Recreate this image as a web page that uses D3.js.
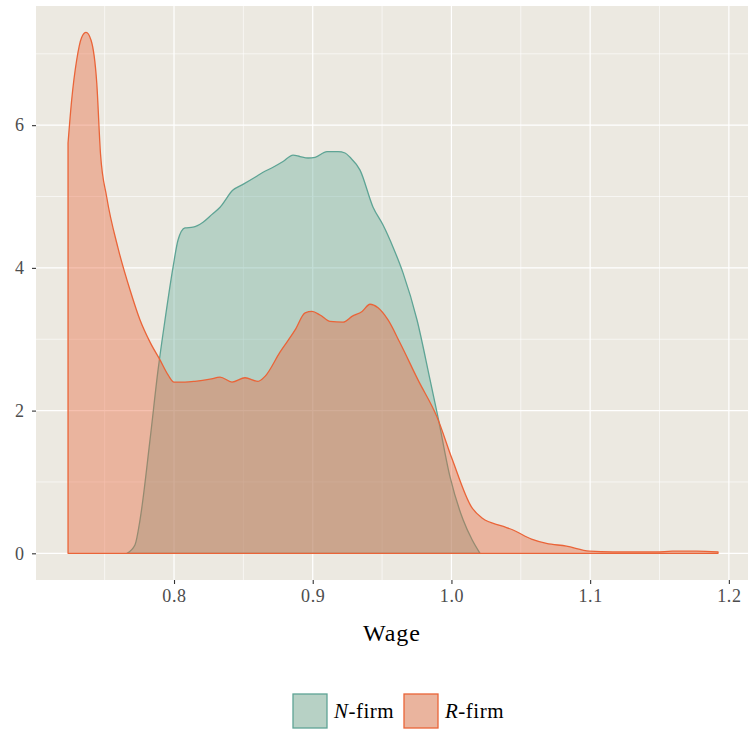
<!DOCTYPE html>
<html>
<head>
<meta charset="utf-8">
<script src="https://cdn.jsdelivr.net/npm/d3@7"></script>
<style>
  body { margin: 0; background: #fff; }
  text { font-family: "Liberation Serif", "DejaVu Serif", serif; }
</style>
</head>
<body>
<svg id="chart" width="748" height="730"></svg>
<script>
// density estimates: [wage, density]
var nFirm = [
  [0.7661, 0], [0.7719, 0.12], [0.7755, 0.47], [0.7827, 1.59], [0.7885, 2.57],
  [0.7935, 3.27], [0.7993, 4.01], [0.8029, 4.39], [0.8079, 4.56], [0.8137, 4.57],
  [0.8209, 4.64], [0.8274, 4.75], [0.8332, 4.85], [0.8425, 5.09], [0.8497, 5.17],
  [0.8584, 5.27], [0.8642, 5.34], [0.8714, 5.41], [0.8786, 5.49], [0.8858, 5.58],
  [0.8909, 5.56], [0.8966, 5.54], [0.9017, 5.55], [0.9103, 5.63], [0.9182, 5.63],
  [0.9233, 5.61], [0.9269, 5.55], [0.9341, 5.37], [0.9435, 4.85], [0.9507, 4.60],
  [0.9579, 4.29], [0.9651, 3.93], [0.9752, 3.27], [0.9846, 2.43], [0.9903, 1.91],
  [0.9990, 1.07], [1.0084, 0.47], [1.0149, 0.19], [1.0206, 0]
];

var rFirm = [
  [0.7236, 5.75], [0.7262, 6.35], [0.7298, 6.91], [0.7334, 7.23], [0.7366, 7.30],
  [0.7402, 7.19], [0.7443, 6.59], [0.7470, 5.60], [0.7515, 4.99], [0.7596, 4.28],
  [0.7683, 3.69], [0.7755, 3.27], [0.7827, 2.96], [0.7899, 2.71], [0.7957, 2.50],
  [0.8000, 2.40], [0.8079, 2.40], [0.8151, 2.41], [0.8260, 2.44], [0.8332, 2.47],
  [0.8418, 2.40], [0.8512, 2.46], [0.8606, 2.41], [0.8656, 2.48], [0.8764, 2.82],
  [0.8873, 3.13], [0.8945, 3.37], [0.8995, 3.39], [0.9053, 3.34], [0.9125, 3.25],
  [0.9219, 3.24], [0.9283, 3.32], [0.9356, 3.39], [0.9413, 3.49], [0.9471, 3.44],
  [0.9543, 3.27], [0.9629, 2.95], [0.9759, 2.43], [0.9896, 1.91], [1.0007, 1.31],
  [1.0144, 0.65], [1.0223, 0.49], [1.0368, 0.38], [1.0440, 0.33], [1.0577, 0.20],
  [1.0685, 0.14], [1.0829, 0.10], [1.0995, 0.03], [1.1161, 0.02], [1.1283, 0.02],
  [1.1478, 0.02], [1.1593, 0.03], [1.1766, 0.03], [1.1922, 0.02]
];

var xTicks = [0.8, 0.9, 1.0, 1.1, 1.2];
var xMinor = [0.75, 0.85, 0.95, 1.05, 1.15];
var yTicks = [0, 2, 4, 6];
var yMinor = [1, 3, 5, 7];

var series = [
  { name: "N", label: "-firm", data: nFirm, stroke: "#5ea495", fill: "#6aad9c" },
  { name: "R", label: "-firm", data: rFirm, stroke: "#ea6438", fill: "#e8643a" }
];

var svg = d3.select("#chart");
var panel = { left: 36, right: 748, top: 6, bottom: 580 };

var x = d3.scaleLinear().domain([0.7005, 1.2138]).range([panel.left, panel.right]);
var y = d3.scaleLinear().domain([-0.374, 7.67]).range([panel.bottom, panel.top]);

svg.append("rect")
    .attr("x", panel.left).attr("y", panel.top)
    .attr("width", panel.right - panel.left).attr("height", panel.bottom - panel.top)
    .attr("fill", "#ece9e1");

var grid = svg.append("g");
grid.selectAll(".xmin").data(xMinor).enter().append("line")
    .attr("x1", x).attr("x2", x).attr("y1", panel.top).attr("y2", panel.bottom)
    .attr("stroke", "#fff").attr("stroke-width", 0.6);
grid.selectAll(".ymin").data(yMinor).enter().append("line")
    .attr("y1", y).attr("y2", y).attr("x1", panel.left).attr("x2", panel.right)
    .attr("stroke", "#fff").attr("stroke-width", 0.6);
grid.selectAll(".xmaj").data(xTicks).enter().append("line")
    .attr("x1", x).attr("x2", x).attr("y1", panel.top).attr("y2", panel.bottom)
    .attr("stroke", "#fff").attr("stroke-width", 1.2);
grid.selectAll(".ymaj").data(yTicks).enter().append("line")
    .attr("y1", y).attr("y2", y).attr("x1", panel.left).attr("x2", panel.right)
    .attr("stroke", "#fff").attr("stroke-width", 1.2);

// ggplot style density polygon: the curve closed along the baseline
var area = d3.area()
    .x(function(p) { return x(p[0]); })
    .y0(y(0))
    .y1(function(p) { return y(p[1]); })
    .curve(d3.curveMonotoneX);

series.forEach(function(s) {
  svg.append("path")
      .attr("d", area(s.data) + "Z")
      .attr("fill", s.fill).attr("fill-opacity", 0.4)
      .attr("stroke", s.stroke).attr("stroke-width", 1.3)
      .attr("stroke-linejoin", "round");
});

var font = "'Liberation Serif', 'DejaVu Serif', serif";

// axes
var xAxis = d3.axisBottom(x).tickValues(xTicks).tickFormat(d3.format(".1f")).tickSizeOuter(0).tickSize(4).tickPadding(5);
var gx = svg.append("g").attr("transform", "translate(0," + panel.bottom + ")").call(xAxis);
gx.select(".domain").remove();
gx.selectAll("line").attr("stroke", "#333").attr("stroke-width", 1.1);
gx.selectAll("text").attr("fill", "#4d4d4d").style("font-size", "18px")
  .style("letter-spacing", "0.6px").style("font-family", font);

var yAxis = d3.axisLeft(y).tickValues(yTicks).tickSizeOuter(0).tickSize(4).tickPadding(8);
var gy = svg.append("g").attr("transform", "translate(" + panel.left + ",0)").call(yAxis);
gy.select(".domain").remove();
gy.selectAll("line").attr("stroke", "#333").attr("stroke-width", 1.1);
gy.selectAll("text").attr("fill", "#4d4d4d").style("font-size", "18px")
  .style("font-family", font);

svg.append("text")
    .attr("x", (panel.left + panel.right) / 2).attr("y", 641)
    .attr("text-anchor", "middle")
    .style("font-size", "24px").style("letter-spacing", "1px").attr("fill", "#000")
    .text("Wage");

// legend
var legend = svg.append("g");
var keyX = [293, 404];
series.forEach(function(s, i) {
  var g = legend.append("g").attr("transform", "translate(" + keyX[i] + ",694)");
  g.append("rect").attr("width", 34).attr("height", 34).attr("fill", "#ece9e1");
  g.append("rect").attr("width", 34).attr("height", 34)
      .attr("fill", s.fill).attr("fill-opacity", 0.4)
      .attr("stroke", s.stroke).attr("stroke-width", 1.3);
  var t = g.append("text").attr("x", 41).attr("y", 24).style("font-size", "21px")
      .style("letter-spacing", "0.5px").attr("fill", "#000");
  t.append("tspan").style("font-style", "italic").text(s.name);
  t.append("tspan").text(s.label);
});
</script>
</body>
</html>
